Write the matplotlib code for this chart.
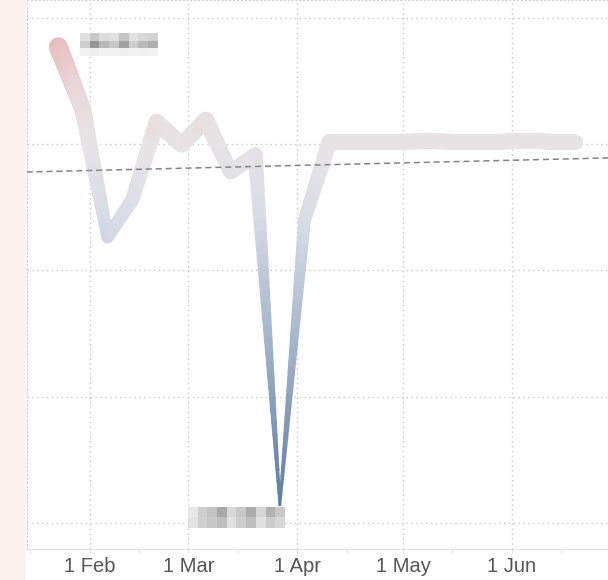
import numpy as np
import matplotlib
matplotlib.use("Agg")
import matplotlib.pyplot as plt
import matplotlib.dates as mdates
from matplotlib.collections import LineCollection
from matplotlib.colors import LinearSegmentedColormap, Normalize

# weekly readings
dates = np.arange(np.datetime64("2023-01-23"), np.datetime64("2023-06-20"), np.timedelta64(7, "D"))
values = [94.3, 81.8, 56.6, 64.0, 79.4, 74.9, 79.8, 69.5, 72.9, 3.6, 60.0,
          75.4, 75.4, 75.5, 75.5, 75.6, 75.5, 75.4, 75.5, 75.7, 75.5, 75.4, 75.4]
dates = dates[:len(values)]

# dashed trend line (start / end)
trend_dates = [np.datetime64("2023-01-14"), np.datetime64("2023-06-29")]
trend_values = [69.5, 72.3]

tick_dates = ["2023-02-01", "2023-03-01", "2023-04-01", "2023-05-01", "2023-06-01"]
tick_labels = ["1 Feb", "1 Mar", "1 Apr", "1 May", "1 Jun"]
minor_dates = ["2023-01-15", "2023-02-15", "2023-03-15", "2023-04-15", "2023-05-15", "2023-06-15"]

# blurred (pixelated) labels
top_mosaic = [[225, 200, 220, 225, 195, 225, 215, 210],
              [205, 150, 185, 200, 160, 205, 185, 175],
              [242, 238, 242, 242, 240, 242, 240, 242]]
bottom_mosaic = [[232, 205, 195, 168, 215, 200, 172, 215, 178, 200],
                 [228, 208, 200, 190, 225, 205, 190, 225, 205, 215]]

fig = plt.figure(figsize=(6.08, 5.80), dpi=100)
fig.patch.set_facecolor("white")
fig.add_artist(plt.Rectangle((0, 0), 25 / 608, 1, transform=fig.transFigure,
                             color="#fbf4ec", zorder=0))

ax = fig.add_axes([27 / 608, 31 / 580, 1 - 27 / 608, 1 - 31 / 580])
ax.set_facecolor("white")

x = mdates.date2num(dates.astype("datetime64[D]").astype(object))
y = np.array(values)

cmap = LinearSegmentedColormap.from_list(
    "wt", [(0.0, "#55759e"), (0.35, "#a2b3c9"), (0.6, "#d7dce6"),
           (0.75, "#e8e4e6"), (0.85, "#e9d8da"), (1.0, "#e9aeae")])
norm = Normalize(0, 100)

segs, cols, widths = [], [], []
for i in range(len(x) - 1):
    t = np.linspace(0, 1, 31)
    xs = x[i] + (x[i + 1] - x[i]) * t
    ys = y[i] + (y[i + 1] - y[i]) * t
    for k in range(30):
        segs.append([(xs[k], ys[k]), (xs[k + 1], ys[k + 1])])
        v = (ys[k] + ys[k + 1]) / 2
        cols.append(cmap(norm(v)))
        widths.append((2.0 + 0.18 * v) * 0.72)
lc = LineCollection(segs, colors=cols, linewidths=widths, capstyle="round",
                    joinstyle="round", zorder=3)
ax.add_collection(lc)

tx = mdates.date2num([d.astype(object) for d in trend_dates])
ax.plot(tx, trend_values, color="#858585", lw=1.1, ls=(0, (4, 2.5)), zorder=4)

ax.set_xlim(mdates.date2num(np.datetime64("2023-01-14").astype(object)) + 0.1,
            mdates.date2num(np.datetime64("2023-06-28").astype(object)) + 0.3)
ax.set_ylim(-5.15, 103.56)

major = mdates.date2num([np.datetime64(d).astype(object) for d in tick_dates])
minor = mdates.date2num([np.datetime64(d).astype(object) for d in minor_dates])
ax.set_xticks(major)
ax.set_xticklabels(tick_labels, fontfamily="Liberation Sans", fontsize=14.5, color="#555555")
ax.set_xticks(minor, minor=True)
ax.tick_params(axis="x", which="both", length=3, color="#dddddd", pad=3)
ax.set_yticks([0, 25, 50, 75, 100])
ax.tick_params(axis="y", length=0, labelleft=False)
ax.grid(True, which="major", ls=(0, (1, 2.5)), color="#c8c8c8", lw=1.0, zorder=1)

for s in ["left", "top"]:
    ax.spines[s].set_linestyle((0, (1, 2.5)))
    ax.spines[s].set_color("#d0d0d0")
ax.spines["right"].set_visible(False)
ax.spines["bottom"].set_color("#e6e6e6")

iax = fig.add_axes([80 / 608, 1 - 56 / 580, 78 / 608, 23 / 580])
iax.imshow(top_mosaic, cmap="gray", vmin=0, vmax=255, aspect="auto", interpolation="nearest")
iax.axis("off")
bax = fig.add_axes([188 / 608, 1 - 528 / 580, 97 / 608, 21 / 580])
bax.imshow(bottom_mosaic, cmap="gray", vmin=0, vmax=255, aspect="auto", interpolation="nearest")
bax.axis("off")

fig.savefig("out.png", dpi=100)
